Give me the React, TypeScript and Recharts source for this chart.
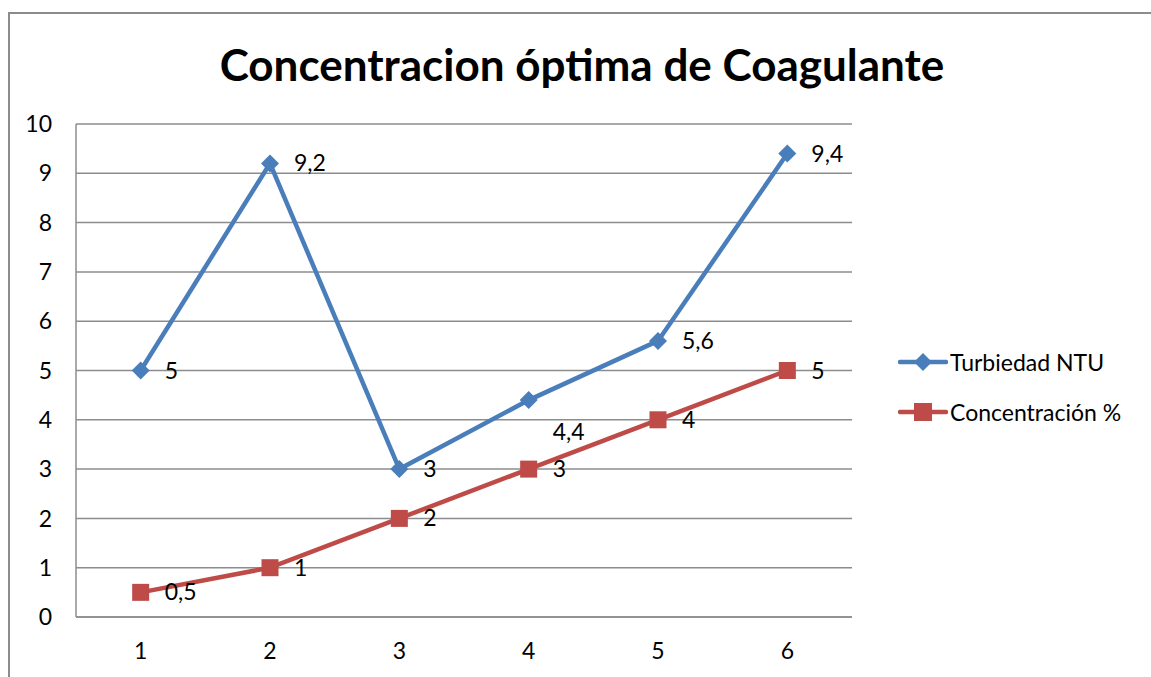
import { LineChart, Line, XAxis, YAxis, CartesianGrid, LabelList } from "recharts";

const categories = [1, 2, 3, 4, 5, 6];
const turbiedad = [5, 9.2, 3, 4.4, 5.6, 9.4];
const concentracion = [0.5, 1, 2, 3, 4, 5];
const yTicks = [0, 1, 2, 3, 4, 5, 6, 7, 8, 9, 10];

const data = categories.map((c, i) => ({
  x: c,
  turbiedad: turbiedad[i],
  concentracion: concentracion[i],
}));

const BLUE = "#4a7ebb";
const RED = "#be4b48";
const FONT = "Lato, 'Open Sans', sans-serif";
const TXT = 23;

const fmt = (v: any) => String(v).replace(".", ",");

function Diamond(props: any) {
  const { cx, cy } = props;
  if (cx == null || cy == null) return null;
  const r = 9;
  return (
    <path
      d={`M${cx},${cy - r} L${cx + r},${cy} L${cx},${cy + r} L${cx - r},${cy} Z`}
      fill={BLUE}
    />
  );
}

function Square(props: any) {
  const { cx, cy } = props;
  if (cx == null || cy == null) return null;
  const s = 17;
  return <rect x={cx - s / 2} y={cy - s / 2} width={s} height={s} fill={RED} />;
}

function PointLabel(props: any) {
  const { x, y, value, index, shiftIndex } = props;
  const dy = index === shiftIndex ? 32 : 0;
  return (
    <text
      x={x + 24}
      y={y + dy}
      dy="0.35em"
      fontSize={TXT}
      fontFamily={FONT}
      fill="#000"
    >
      {fmt(value)}
    </text>
  );
}

function LegendRow({ color, kind, label }: { color: string; kind: string; label: string }) {
  return (
    <div style={{ display: "flex", alignItems: "center", height: 28 }}>
      <svg width={50} height={22}>
        <line x1={2} y1={11} x2={48} y2={11} stroke={color} strokeWidth={4.5} strokeLinecap="round" />
        {kind === "diamond" ? (
          <path d="M25,2 L34,11 L25,20 L16,11 Z" fill={color} />
        ) : (
          <rect x={16} y={2} width={18} height={18} fill={color} />
        )}
      </svg>
      <span style={{ fontFamily: FONT, fontSize: TXT, color: "#000", marginLeft: 2 }}>{label}</span>
    </div>
  );
}

export default function App() {
  return (
    <div
      style={{
        position: "absolute",
        left: 8,
        top: 12,
        width: 1200,
        height: 720,
        border: "2px solid #8c8c8c",
        boxSizing: "border-box",
        background: "#fff",
      }}
    >
      <div
        style={{
          position: "absolute",
          left: 0,
          top: 24,
          width: 1144,
          textAlign: "center",
          fontFamily: FONT,
          fontWeight: 700,
          fontSize: 44,
          lineHeight: "52px",
          color: "#000",
        }}
      >
        Concentracion óptima de Coagulante
      </div>
      <div style={{ position: "absolute", left: 0, top: 0 }}>
        <LineChart
          width={1140}
          height={660}
          data={data}
          margin={{ top: 110, right: 298, bottom: 27, left: 26 }}
        >
          <CartesianGrid vertical={false} stroke="#8c8c8c" strokeWidth={1.5} />
          <XAxis
            dataKey="x"
            type="number"
            domain={[0.5, 6.5]}
            ticks={categories}
            tickLine={false}
            tickSize={0}
            tickMargin={26}
            height={30}
            axisLine={{ stroke: "#8c8c8c", strokeWidth: 1.5 }}
            tick={{ fill: "#000", fontSize: TXT, fontFamily: FONT }}
          />
          <YAxis
            domain={[0, 10]}
            ticks={yTicks}
            width={40}
            tickLine={false}
            tickSize={0}
            tickMargin={24}
            axisLine={{ stroke: "#8c8c8c", strokeWidth: 1.5 }}
            tick={{ fill: "#000", fontSize: TXT, fontFamily: FONT }}
          />
          <Line
            dataKey="turbiedad"
            stroke={BLUE}
            strokeWidth={4.5}
            dot={<Diamond />}
            activeDot={false}
            isAnimationActive={false}
          >
            <LabelList dataKey="turbiedad" content={<PointLabel shiftIndex={3} />} />
          </Line>
          <Line
            dataKey="concentracion"
            stroke={RED}
            strokeWidth={4.5}
            dot={<Square />}
            activeDot={false}
            isAnimationActive={false}
          >
            <LabelList dataKey="concentracion" content={<PointLabel shiftIndex={-1} />} />
          </Line>
        </LineChart>
      </div>
      <div style={{ position: "absolute", left: 888, top: 334 }}>
        <LegendRow color={BLUE} kind="diamond" label="Turbiedad NTU" />
        <div style={{ height: 22 }} />
        <LegendRow color={RED} kind="square" label="Concentración %" />
      </div>
    </div>
  );
}
